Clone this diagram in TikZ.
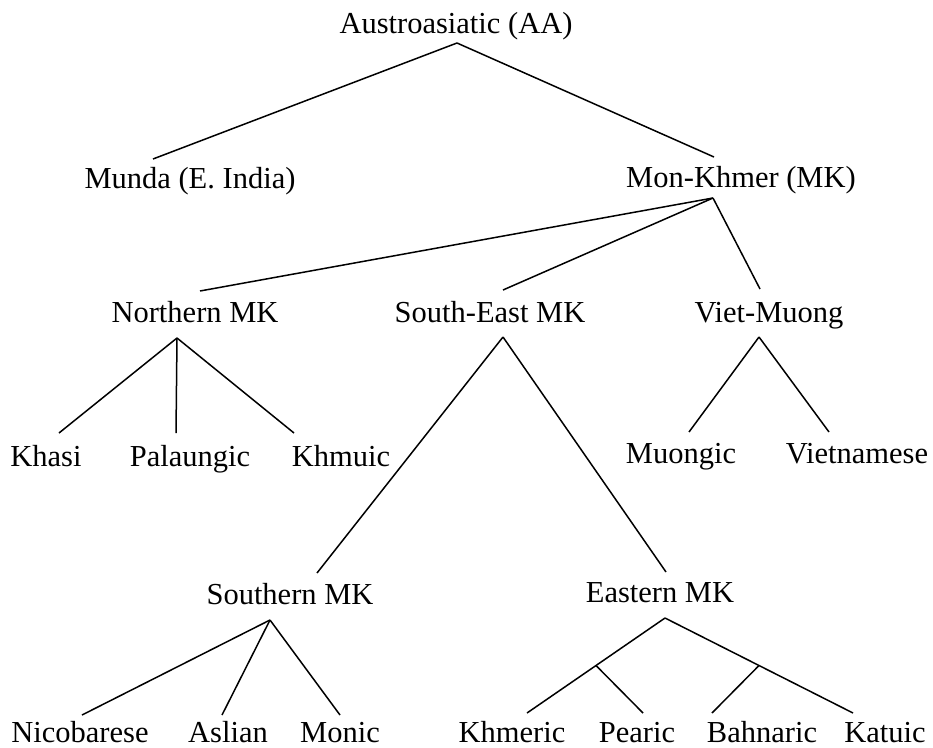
\documentclass[tikz,border=0pt]{standalone}
\usepackage{fontspec}
\setmainfont{Liberation Serif}
\usetikzlibrary{calc}

\tikzstyle{lang}=[anchor=base,inner sep=0pt,font=\fontsize{30.5}{36}\selectfont]
\tikzstyle{edge} = [draw,line width=1.5pt,-]

\begin{document}
\begin{tikzpicture}[x=1pt,y=-1pt]
    \useasboundingbox (0,0) rectangle (933,747);
    % First we place the languages, and where their lines come in and go out
    \foreach \pos/\name/\lbl/\inpt/\outpt in {
        {(456,33)/aa/Austroasiatic (AA)/(0,0)/(1,10)},
        {(190,188)/munda/Munda (E. India)/(-37,-29)/(0,0)},
        {(741,187)/mk/Mon-Khmer (MK)/(-27,-30)/(-28,11)},
        {(195,322)/nmk/Northern MK/(5,-31)/(-18,16)},
        {(490,322)/semk/South-East MK/(13,-32)/(13,15)},
        {(769,322)/vm/Viet-Muong/(-9,-33)/(-10,15)},
        {(46,466)/khasi/Khasi/(13,-33)/(0,0)},
        {(190,466)/palaungic/Palaungic/(-14,-33)/(0,0)},
        {(341,466)/khmuic/Khmuic/(-47,-33)/(0,0)},
        {(681,463)/muongic/Muongic/(8,-31)/(0,0)},
        {(857,463)/vietnamese/Vietnamese/(-28,-31)/(0,0)},
        {(290,604)/smk/Southern MK/(27,-31)/(-20,16)},
        {(660,602)/emk/Eastern MK/(6,-30)/(5,16)},
        {(80,742)/nicobarese/Nicobarese/(2,-27)/(0,0)},
        {(228,742)/aslian/Aslian/(-6,-27)/(0,0)},
        {(340,742)/monic/Monic/(0,-27)/(0,0)},
        {(512,742)/khmeric/Khmeric/(15,-29)/(0,0)},
        {(637,742)/pearic/Pearic/(6,-29)/(0,0)},
        {(762,742)/bahnaric/Bahnaric/(-50,-29)/(0,0)},
        {(885,742)/katuic/Katuic/(-32,-29)/(0,0)}}
    {
        \node[lang] (\name) at \pos {\lbl};
        \coordinate (\name-in) at ([shift={\inpt}]\name.base);
        \coordinate (\name-out) at ([shift={\outpt}]\name.base);
    }
    % Connect each family with its branches
    \foreach \source/\dest in {aa/munda,aa/mk,mk/nmk,mk/semk,mk/vm,
        nmk/khasi,nmk/palaungic,nmk/khmuic,semk/smk,semk/emk,vm/muongic,vm/vietnamese,
        smk/nicobarese,smk/aslian,smk/monic,emk/khmeric,emk/katuic}
        \path[edge] (\source-out) -- (\dest-in);

    % the two side forks under Eastern MK
    \coordinate (kfork) at ($(emk-out)!0.5!(khmeric-in)$);
    \coordinate (bfork) at ($(emk-out)!0.5!(katuic-in)$);
    \path[edge] (kfork) -- (pearic-in);
    \path[edge] (bfork) -- (bahnaric-in);
\end{tikzpicture}
\end{document}
